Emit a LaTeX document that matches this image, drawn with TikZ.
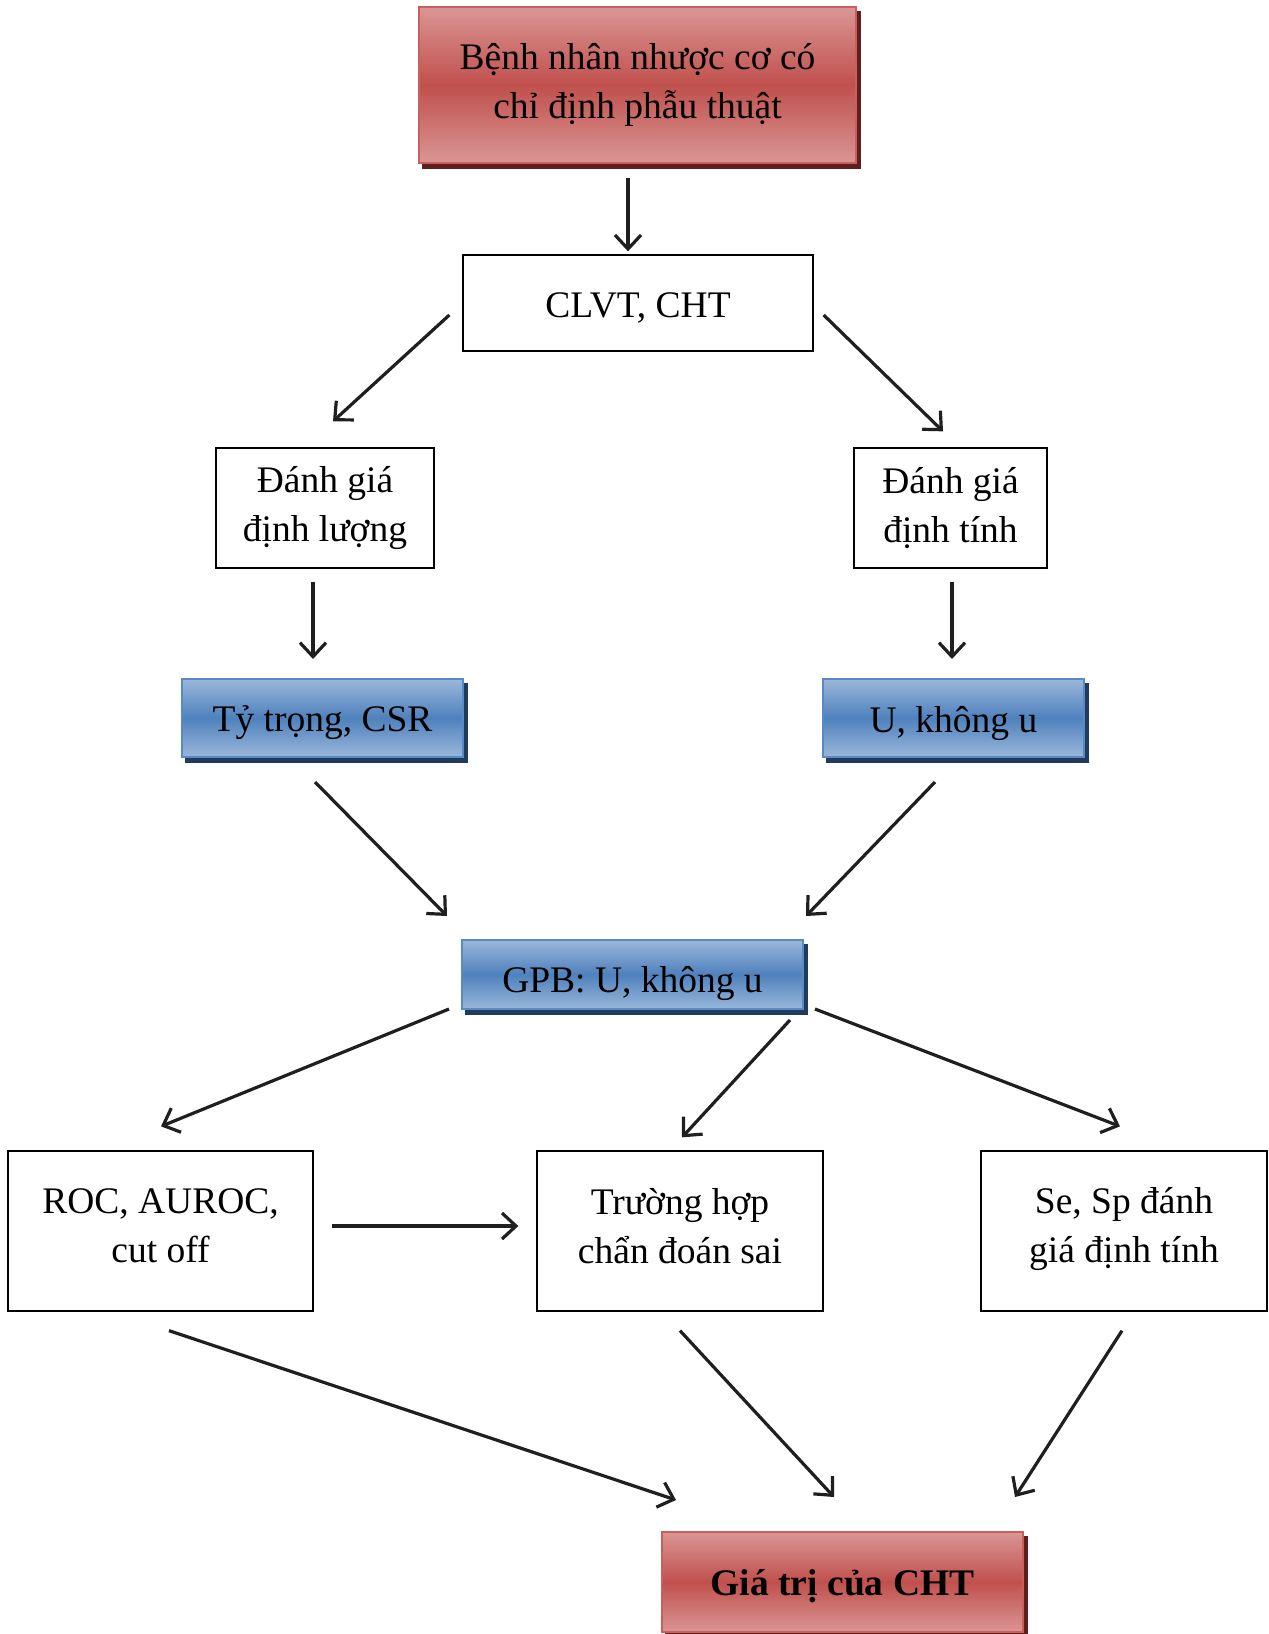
\documentclass[tikz,border=0pt]{standalone}
\usepackage{fontspec}
\setmainfont{Liberation Serif}
\usetikzlibrary{arrows.meta,backgrounds,calc}
\definecolor{redmid}{HTML}{C0504D}
\definecolor{redlight}{HTML}{DA9694}
\definecolor{redline}{HTML}{C9605D}
\definecolor{redshadow}{HTML}{5E1F1D}
\definecolor{bluemid}{HTML}{4F81BD}
\definecolor{bluelight}{HTML}{9AB7DA}
\definecolor{blueline}{HTML}{5A8AC6}
\definecolor{blueshadow}{HTML}{213B5C}
\newcommand\boxshadow[2]{\fill[#2] ($(#1.south west)+(4,5)$) rectangle ($(#1.north east)+(4,5)$);}
\begin{document}
\begin{tikzpicture}[x=1pt,y=-1pt,
  txt/.style={font=\fontsize{37.5}{49}\selectfont, align=center, inner sep=0pt},
  plainbox/.style={draw=black, line width=1.3pt, inner sep=0pt},
  redbox/.style={draw=redline, line width=2pt, inner sep=0pt, top color=redlight, bottom color=redlight, middle color=redmid},
  bluebox/.style={draw=blueline, line width=2pt, inner sep=0pt, top color=bluelight, bottom color=bluelight, middle color=bluemid},
  arr/.style={draw=black!88, line width=3.2pt, -{Straight Barb[length=14pt,width=26pt]}}]
\useasboundingbox (0,0) rectangle (1269,1634);
% boxes
\node[redbox, minimum width=437pt, minimum height=156pt] (top) at (637.5,85) {};
\node[plainbox, minimum width=350pt, minimum height=96pt] (clvt) at (638,303) {};
\node[plainbox, minimum width=218pt, minimum height=120pt] (dl) at (325,508) {};
\node[plainbox, minimum width=193pt, minimum height=120pt] (dt) at (950.5,508) {};
\node[bluebox, minimum width=281pt, minimum height=78pt] (tt) at (322.5,718) {};
\node[bluebox, minimum width=261pt, minimum height=78pt] (uk) at (953.5,718) {};
\node[bluebox, minimum width=341pt, minimum height=69pt] (gpb) at (632.5,974.5) {};
\node[plainbox, minimum width=305pt, minimum height=160pt] (roc) at (160.5,1231) {};
\node[plainbox, minimum width=286pt, minimum height=160pt] (tr) at (680,1231) {};
\node[plainbox, minimum width=286pt, minimum height=160pt] (se) at (1124,1231) {};
\node[redbox, minimum width=361pt, minimum height=100pt] (gt) at (842.5,1582) {};
% texts (yshift is in canvas direction: negative = down)
\node[txt] (top-t) at (top.center) {Bệnh nhân nhược cơ có\\chỉ định phẫu thuật};
\node[txt] (clvt-t) at ([yshift=-5pt]clvt.center) {CLVT, CHT};
\node[txt] (dl-t) at (dl.center) {Đánh giá\\định lượng};
\node[txt] (dt-t) at (dt.center) {Đánh giá\\định tính};
\node[txt] (tt-t) at ([yshift=-5pt]tt.center) {Tỷ trọng, CSR};
\node[txt] (uk-t) at ([yshift=-5pt]uk.center) {U, không u};
\node[txt] (gpb-t) at ([yshift=-9pt]gpb.center) {GPB: U, không u};
\node[txt] (roc-t) at ([yshift=5pt]roc.center) {ROC, AUROC,\\cut off};
\node[txt] (tr-t) at ([yshift=5pt]tr.center) {Trường hợp\\chẩn đoán sai};
\node[txt] (se-t) at ([yshift=2pt]se.center) {Se, Sp đánh\\giá định tính};
\node[txt, font=\fontsize{37.5}{49}\selectfont\bfseries] (gt-t) at ([yshift=-4pt]gt.center) {Giá trị của CHT};
\begin{pgfonlayer}{background}
\boxshadow{top}{redshadow}
\boxshadow{gt}{redshadow}
\boxshadow{tt}{blueshadow}
\boxshadow{uk}{blueshadow}
\boxshadow{gpb}{blueshadow}
\end{pgfonlayer}
% connectors
\draw[arr] ([shift={(-9.5,14)}]top.south) -- ([shift={(-10,-3)}]clvt.north);
\draw[arr] ([shift={(-13,12)}]clvt.west) -- ([shift={(8,-26)}]dl.north);
\draw[arr] ([shift={(10,12)}]clvt.east) -- ([shift={(-7.5,-16)}]dt.north);
\draw[arr] ([shift={(-12,13)}]dl.south) -- ([shift={(-9.5,-19)}]tt.north);
\draw[arr] ([shift={(1.5,13)}]dt.south) -- ([shift={(-1.5,-19)}]uk.north);
\draw[arr] ([shift={(-7.5,24)}]tt.south) -- ([shift={(-14,-23)}]gpb.north west);
\draw[arr] ([shift={(-18.5,24)}]uk.south) -- ([shift={(2,-23)}]gpb.north east);
\draw[arr] ([shift={(-12,-1)}]gpb.south west) -- ([shift={(0.5,-24)}]roc.north);
\draw[arr] ([shift={(-14,10)}]gpb.south east) -- ([shift={(2,-13)}]tr.north);
\draw[arr] ([shift={(11,-1)}]gpb.south east) -- ([shift={(-4,-24)}]se.north);
\draw[arr] ([shift={(18,-5)}]roc.east) -- ([shift={(-18,-5)}]tr.west);
\draw[arr] ([shift={(8.5,19)}]roc.south) -- ([shift={(15,-31)}]gt.north west);
\draw[arr] ([shift={(0,19)}]tr.south) -- ([shift={(-8.5,-34)}]gt.north);
\draw[arr] ([shift={(-2,19)}]se.south) -- ([shift={(-9,-34)}]gt.north east);
\end{tikzpicture}
\end{document}
